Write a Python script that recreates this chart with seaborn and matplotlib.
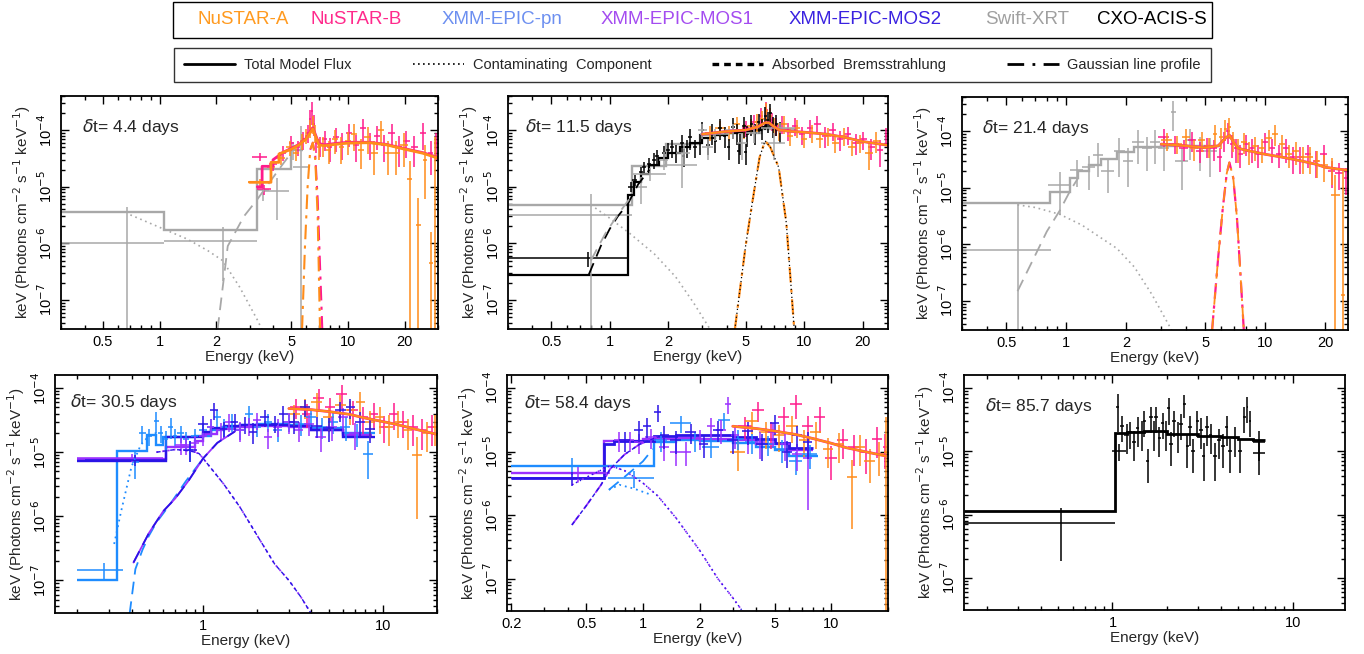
import numpy as np
import matplotlib
matplotlib.use('Agg')
import matplotlib.pyplot as plt
from matplotlib.lines import Line2D
from matplotlib.patches import Rectangle
from matplotlib.ticker import LogLocator, NullFormatter
import seaborn as sns

# ---------------- panel 1 : dt = 4.4 days (NuSTAR + Swift) ----------------
p1_nua_e = [3.4, 3.9, 4.4, 4.9, 5.3, 5.7, 6.0, 6.3, 6.5, 6.7, 7.0, 7.4, 7.9, 8.5, 9.2, 10.0, 10.8, 11.7, 12.7, 13.8, 15.0, 16.3, 18.0, 19.8, 21.2, 23.6, 25.5, 27.5, 29.0]
p1_nua_de = [0.45, 0.2, 0.25, 0.2, 0.2, 0.15, 0.12, 0.12, 0.1, 0.1, 0.15, 0.2, 0.25, 0.3, 0.3, 0.35, 0.4, 0.45, 0.5, 0.55, 0.6, 0.7, 0.8, 0.9, 0.7, 0.8, 0.6, 0.7, 0.6]
p1_nua_f = [1.2e-5, 2.2e-5, 3.2e-5, 5.0e-5, 4.0e-5, 6.5e-5, 8.0e-5, 1.1e-4, 1.3e-4, 9.0e-5, 5.0e-5, 5.5e-5, 4.5e-5, 7.0e-5, 5.0e-5, 6.5e-5, 8.5e-5, 4.5e-5, 7.5e-5, 4.0e-5, 1.0e-4, 4.0e-5, 4.0e-5, 5.5e-5, 1.35e-5, 2.1e-6, 3.0e-5, 4.5e-7, 3.5e-5]
p1_nua_rel = [0.15, 0.25, 0.25, 0.3, 0.3, 0.3, 0.3, 0.35, 0.35, 0.35, 0.4, 0.4, 0.45, 0.45, 0.5, 0.45, 0.5, 0.55, 0.5, 0.6, 0.45, 0.6, 0.6, 0.6, 1.1, 2.0, 0.8, 2.5, 1.2]
p1_nub_e = [3.4, 3.6, 4.0, 4.5, 5.0, 5.4, 5.8, 6.1, 6.3, 6.45, 6.6, 6.8, 7.1, 7.5, 8.0, 8.6, 9.3, 10.1, 11.0, 12.0, 13.1, 14.3, 15.6, 17.0, 18.6, 20.4, 22.5, 25.0, 27.5, 29.3]
p1_nub_de = [0.3, 0.3, 0.2, 0.2, 0.15, 0.15, 0.12, 0.1, 0.08, 0.07, 0.08, 0.1, 0.15, 0.2, 0.25, 0.3, 0.3, 0.35, 0.4, 0.45, 0.5, 0.55, 0.6, 0.7, 0.7, 0.8, 0.9, 1.0, 0.8, 0.6]
p1_nub_f = [3.4e-5, 9e-6, 2.5e-5, 4e-5, 6e-5, 5e-5, 7e-5, 9e-5, 1.6e-4, 2.2e-4, 1.3e-4, 6e-5, 5.5e-5, 7e-5, 5e-5, 7.5e-5, 6e-5, 9e-5, 5.5e-5, 1.1e-4, 6e-5, 8e-5, 5.5e-5, 9e-5, 5e-5, 6.5e-5, 5e-5, 9e-5, 4e-5, 6e-5]
p1_nub_rel = [0.15, 0.2, 0.25, 0.3, 0.3, 0.3, 0.35, 0.35, 0.4, 0.45, 0.4, 0.35, 0.4, 0.4, 0.45, 0.45, 0.5, 0.45, 0.5, 0.45, 0.5, 0.45, 0.5, 0.45, 0.55, 0.5, 0.55, 0.5, 0.6, 0.5]
p1_sw_e = [0.675, 2.175, 3.55, 4.2, 5.1, 5.6]
p1_sw_de = [0.375, 1.125, 0.25, 0.65, 0.3, 0.5]
p1_sw_f = [1.0e-6, 1.1e-6, 8.7e-6, 8.5e-6, 4.5e-5, 2.2e-5]
p1_sw_rel = [3.4, 0.8, 0.35, 0.7, 0.35, 4.4]
p1_sw_mod_edges = [0.3, 1.05, 3.3, 5.0, 5.8]
p1_sw_mod = [3.6e-6, 1.75e-6, 2.1e-5, 4.5e-5]
p1_sw_con_e = [0.7, 1.05, 1.4, 1.8, 2.16, 2.66, 3.3, 3.5]
p1_sw_con = [3.2e-6, 1.8e-6, 1.2e-6, 7.5e-7, 5e-7, 1.7e-7, 4.5e-8, 3e-8]
p1_sw_abs_e = [2.03, 2.3, 2.8, 3.3, 3.9, 4.5, 5.0]
p1_sw_abs = [3e-8, 9e-7, 3e-6, 6e-6, 1.3e-5, 2.5e-5, 4e-5]
p1_nua_mod_e = [3.0, 3.9, 3.9, 4.3, 4.3, 5.0, 5.5, 6.0, 6.3, 6.5, 6.7, 7.0, 7.5, 8.5, 10, 13, 16, 20, 25, 30]
p1_nua_mod = [1.2e-5, 1.2e-5, 2.7e-5, 2.7e-5, 3.8e-5, 4.6e-5, 5.5e-5, 7e-5, 9e-5, 1.05e-4, 8e-5, 5.5e-5, 5.3e-5, 5.6e-5, 5.9e-5, 6e-5, 5.5e-5, 4.6e-5, 3.9e-5, 3.2e-5]
p1_nub_mod_e = [3.3, 3.5, 3.5, 4.0, 4.0, 4.5, 5.0, 5.5, 6.0, 6.3, 6.5, 6.7, 7.0, 7.5, 8.5, 10, 13, 16, 20, 25, 30]
p1_nub_mod = [1.0e-5, 1.0e-5, 2.3e-5, 2.3e-5, 3.0e-5, 4.0e-5, 4.8e-5, 5.6e-5, 7.2e-5, 9.5e-5, 1.1e-4, 8.5e-5, 5.8e-5, 5.5e-5, 5.8e-5, 6.1e-5, 6.1e-5, 5.6e-5, 4.7e-5, 4.0e-5, 3.3e-5]
p1_gau_a_e = [5.7, 5.9, 6.1, 6.3, 6.5, 6.7, 6.9, 7.1]
p1_gau_a = [3e-8, 8e-7, 1e-5, 4.5e-5, 6e-5, 3e-5, 3e-6, 3e-8]
p1_gau_b_e = [6.3, 6.5, 6.7, 6.9, 7.1, 7.3]
p1_gau_b = [4.5e-5, 6e-5, 3.5e-5, 6e-6, 4e-7, 3e-8]

# ---------------- panel 2 : dt = 11.5 days (CXO + Swift + NuSTAR) ----------------
p2_cxo_e = [0.77, 1.28, 1.35, 1.45, 1.5, 1.6, 1.7, 1.75, 1.9, 2.0, 2.1, 2.2, 2.35, 2.4, 2.5, 2.6, 2.75, 2.9, 3.0, 3.2, 3.35, 3.5, 3.7, 3.9, 4.1, 4.3, 4.5, 4.6, 4.7, 4.9, 5.0, 5.1, 5.35, 5.6, 5.85, 6.1, 6.3, 6.5, 6.7, 6.9, 7.2, 7.5]
p2_cxo_de = [0.47, 0.04, 0.04, 0.04, 0.04, 0.04, 0.04, 0.04, 0.05, 0.05, 0.05, 0.05, 0.05, 0.05, 0.05, 0.06, 0.06, 0.06, 0.06, 0.07, 0.07, 0.07, 0.08, 0.08, 0.08, 0.09, 0.09, 0.09, 0.1, 0.1, 0.1, 0.1, 0.1, 0.11, 0.11, 0.11, 0.11, 0.12, 0.12, 0.12, 0.13, 0.13]
p2_cxo_f = [5.5e-7, 1.0e-5, 1.3e-5, 1.8e-5, 2.2e-5, 2.5e-5, 3.0e-5, 3.5e-5, 4.0e-5, 4.5e-5, 5.0e-5, 4.0e-5, 6.0e-5, 3.5e-5, 5.0e-5, 7.5e-5, 5.0e-5, 6.0e-5, 1.0e-4, 5.5e-5, 9.0e-5, 6.5e-5, 1.1e-4, 8.0e-5, 5.0e-5, 1.15e-4, 9.0e-5, 4.2e-5, 6.0e-5, 1.2e-4, 4.1e-5, 8.5e-5, 1.3e-4, 9.0e-5, 1.4e-4, 1.1e-4, 1.8e-4, 1.5e-4, 2.0e-4, 1.2e-4, 1.3e-4, 1.0e-4]
p2_cxo_rel = [0.3, 0.2, 0.25, 0.25, 0.25, 0.3, 0.3, 0.3, 0.3, 0.3, 0.35, 0.35, 0.35, 0.35, 0.35, 0.4, 0.35, 0.4, 0.4, 0.35, 0.4, 0.4, 0.4, 0.4, 0.4, 0.4, 0.4, 0.4, 0.4, 0.4, 0.4, 0.4, 0.4, 0.4, 0.4, 0.4, 0.45, 0.4, 0.45, 0.4, 0.4, 0.4]
p2_cxo_mod_edges = [0.3, 1.24, 1.33, 1.45, 1.6, 1.8, 2.0, 2.3, 2.6, 3.0, 3.5, 4.0, 4.5, 5.0, 5.5, 6.0, 6.4, 6.8, 7.2, 7.6]
p2_cxo_mod = [2.8e-7, 7.2e-6, 1.2e-5, 1.7e-5, 2.4e-5, 3.2e-5, 4e-5, 5e-5, 6e-5, 7.3e-5, 8.3e-5, 9e-5, 9.3e-5, 9.6e-5, 1.02e-4, 1.15e-4, 1.35e-4, 1.2e-4, 1.0e-4]
p2_sw_e = [0.8, 1.45, 1.62, 1.9, 2.35, 2.4, 3.0, 3.2, 3.5, 4.3, 4.8, 5.5, 7.0, 7.5]
p2_sw_de = [0.5, 0.1, 0.33, 0.1, 0.45, 0.2, 0.15, 0.2, 0.6, 0.4, 0.3, 0.5, 1.0, 1.5]
p2_sw_f = [3.2e-6, 1.0e-5, 1.7e-5, 3.0e-5, 2.4e-5, 4.0e-5, 1.0e-4, 5.0e-5, 8.5e-5, 1.0e-4, 6.0e-5, 9.0e-5, 6.0e-5, 1.1e-4]
p2_sw_rel = [1.35, 0.5, 0.25, 0.35, 0.6, 0.4, 0.3, 0.4, 0.25, 0.3, 0.5, 0.35, 0.5, 0.2]
p2_sw_mod_edges = [0.3, 1.3, 1.95, 2.9, 4.0, 6.0, 9.2]
p2_sw_mod = [4.8e-6, 2.3e-5, 5.8e-5, 8.2e-5, 9e-5, 1.05e-4]
p2_sw_con_e = [0.8, 1.0, 1.27, 1.7, 2.18, 2.7, 3.26, 3.5]
p2_sw_con = [4.8e-6, 2.8e-6, 1.5e-6, 6.5e-7, 2.6e-7, 9e-8, 3.2e-8, 2.5e-8]
p2_abs_e = [0.78, 0.9, 1.0, 1.1, 1.24, 1.4, 1.6]
p2_abs = [2.8e-7, 9e-7, 1.8e-6, 3e-6, 5e-6, 1.1e-5, 2e-5]
p2_sw_abs_e = [0.8, 0.95, 1.1, 1.3]
p2_sw_abs = [5e-7, 1.5e-6, 3.2e-6, 7e-6]
p2_gau_e = [4.4, 5.0, 5.4, 5.9, 6.3, 6.7, 7.4, 8.1, 8.9]
p2_gau = [3e-8, 9e-7, 5e-6, 3.3e-5, 6.5e-5, 5e-5, 2.2e-5, 2.3e-6, 3e-8]
p2_nu_mod_e = [3.0, 4.0, 5.0, 5.8, 6.3, 6.6, 7.0, 7.5, 8.5, 10, 13, 16, 20, 27]
p2_nu_mod = [8.5e-5, 9.5e-5, 1.0e-4, 1.15e-4, 1.35e-4, 1.35e-4, 1.15e-4, 1.0e-4, 9.5e-5, 9.2e-5, 8.5e-5, 7.5e-5, 6.3e-5, 5.4e-5]
p2_nua_e = [3.3, 3.7, 4.1, 4.5, 4.9, 5.3, 5.7, 6.1, 6.4, 6.7, 7.0, 7.4, 7.9, 8.5, 9.2, 10.0, 11.0, 12.0, 13.2, 14.5, 16.0, 17.6, 19.4, 21.5, 23.5]
p2_nua_de = [0.2, 0.2, 0.2, 0.2, 0.2, 0.2, 0.15, 0.15, 0.12, 0.12, 0.15, 0.2, 0.25, 0.3, 0.35, 0.4, 0.45, 0.5, 0.6, 0.6, 0.7, 0.8, 0.9, 1.0, 1.0]
p2_nua_f = [9e-5, 1.1e-4, 9e-5, 1.3e-4, 1.0e-4, 1.2e-4, 1.4e-4, 1.6e-4, 2.2e-4, 1.8e-4, 1.2e-4, 1.0e-4, 1.3e-4, 8e-5, 1.1e-4, 7e-5, 9e-5, 7e-5, 8e-5, 6e-5, 8e-5, 5e-5, 6e-5, 4e-5, 6.5e-5]
p2_nua_rel = [0.3, 0.3, 0.3, 0.3, 0.3, 0.3, 0.35, 0.35, 0.35, 0.35, 0.35, 0.35, 0.35, 0.35, 0.35, 0.3, 0.35, 0.3, 0.35, 0.35, 0.35, 0.3, 0.35, 0.5, 0.4]
p2_nub_e = [5.0, 5.5, 6.0, 6.4, 6.8, 7.2, 7.7, 8.3, 9.0, 9.8, 10.7, 11.7, 12.8, 14.0, 15.3, 16.8, 18.4, 20.2, 22.2, 24.5, 26.5]
p2_nub_de = [0.2, 0.2, 0.15, 0.12, 0.15, 0.2, 0.25, 0.3, 0.3, 0.35, 0.4, 0.45, 0.5, 0.55, 0.6, 0.7, 0.8, 0.9, 0.9, 0.8, 0.5]
p2_nub_f = [1.1e-4, 1.4e-4, 1.8e-4, 2.3e-4, 1.5e-4, 1.2e-4, 1.3e-4, 1.0e-4, 1.2e-4, 8.5e-5, 1.1e-4, 1.3e-4, 8e-5, 1.0e-4, 7e-5, 8.5e-5, 6e-5, 7e-5, 5e-5, 4.5e-5, 8e-5]
p2_nub_rel = [0.3, 0.3, 0.35, 0.35, 0.35, 0.35, 0.35, 0.35, 0.35, 0.35, 0.35, 0.35, 0.4, 0.35, 0.4, 0.35, 0.4, 0.35, 0.4, 0.5, 0.35]

# ---------------- panel 3 : dt = 21.4 days (Swift + NuSTAR) ----------------
p3_sw_e = [0.57, 0.93, 1.13, 1.3, 1.45, 1.62, 1.85, 2.05, 2.3, 2.55, 2.8, 3.1, 3.45, 3.8, 4.2, 4.7, 5.3]
p3_sw_de = [0.27, 0.12, 0.08, 0.1, 0.08, 0.12, 0.12, 0.12, 0.15, 0.15, 0.15, 0.2, 0.1, 0.3, 0.25, 0.3, 0.4]
p3_sw_f = [8e-7, 1.1e-5, 2.1e-5, 2.3e-5, 3.8e-5, 2.0e-5, 4.5e-5, 3.0e-5, 6.5e-5, 5.0e-5, 6.5e-5, 5.0e-5, 2.2e-4, 3.0e-5, 7.0e-5, 5.0e-5, 4.5e-5]
p3_sw_rel = [6.0, 0.7, 0.5, 0.6, 0.6, 0.6, 0.65, 0.65, 0.6, 0.6, 0.6, 0.6, 0.55, 0.7, 0.55, 0.6, 0.65]
p3_sw_mod_edges = [0.3, 0.83, 1.05, 1.15, 1.3, 1.5, 1.8, 2.2, 3.0, 6.0]
p3_sw_mod = [5.3e-6, 8.5e-6, 1.5e-5, 2.0e-5, 2.5e-5, 3.2e-5, 4.3e-5, 5.2e-5, 5.5e-5]
p3_sw_con_e = [0.57, 0.7, 0.93, 1.2, 1.5, 1.8, 2.2, 2.7, 3.4]
p3_sw_con = [5e-6, 4.5e-6, 3.4e-6, 2.2e-6, 1.3e-6, 8.5e-7, 4e-7, 1.3e-7, 3e-8]
p3_sw_abs_e = [0.57, 0.7, 0.8, 0.93, 1.05, 1.15]
p3_sw_abs = [1.5e-7, 6.5e-7, 1.7e-6, 4e-6, 9e-6, 1.5e-5]
p3_nu_mod_e = [3, 4, 5, 5.8, 6.3, 6.6, 6.9, 7.3, 8, 10, 12, 15, 18, 20, 23, 26]
p3_nu_mod = [5.9e-5, 5.5e-5, 5.1e-5, 5.5e-5, 7.5e-5, 8.5e-5, 6.5e-5, 5.0e-5, 4.6e-5, 3.9e-5, 3.5e-5, 3.0e-5, 2.6e-5, 2.3e-5, 2.15e-5, 2.05e-5]
p3_gau_e = [5.4, 5.8, 6.1, 6.4, 6.6, 6.9, 7.2, 7.5, 7.8]
p3_gau = [3e-8, 6e-7, 4e-6, 1.8e-5, 2.8e-5, 1.5e-5, 3e-6, 3e-7, 3e-8]
p3_nua_e = [3.2, 3.6, 4.0, 4.4, 4.8, 5.2, 5.6, 6.0, 6.3, 6.6, 6.9, 7.3, 7.8, 8.3, 8.9, 9.6, 10.4, 11.2, 12.1, 13.1, 14.2, 15.4, 16.7, 18.2, 19.8, 21.5, 22.5, 24.6]
p3_nua_de = [0.2, 0.2, 0.2, 0.2, 0.2, 0.2, 0.15, 0.15, 0.12, 0.12, 0.15, 0.2, 0.25, 0.25, 0.3, 0.35, 0.4, 0.4, 0.45, 0.5, 0.55, 0.6, 0.65, 0.7, 0.8, 0.8, 1.2, 0.6]
p3_nua_f = [7e-5, 6e-5, 8e-5, 5e-5, 7e-5, 5.5e-5, 9e-5, 8e-5, 1.1e-4, 1.2e-4, 7e-5, 5e-5, 6.5e-5, 4.5e-5, 5.5e-5, 5e-5, 7.5e-5, 9e-5, 6e-5, 4e-5, 4.5e-5, 3.5e-5, 3.5e-5, 3e-5, 2.5e-5, 2.2e-5, 7.4e-6, 1.3e-7]
p3_nua_rel = [0.35, 0.35, 0.35, 0.4, 0.4, 0.4, 0.4, 0.4, 0.4, 0.4, 0.4, 0.45, 0.4, 0.45, 0.45, 0.45, 0.4, 0.4, 0.45, 0.45, 0.45, 0.5, 0.5, 0.5, 0.5, 0.5, 1.3, 150]
p3_nub_e = [3.1, 3.5, 3.9, 4.3, 4.7, 5.1, 5.5, 5.9, 6.2, 6.5, 6.8, 7.1, 7.5, 8.0, 8.6, 9.2, 10.0, 10.8, 11.7, 12.7, 13.8, 15.0, 16.4, 18.0, 19.6, 21.5, 23.5, 25.5]
p3_nub_de = [0.2, 0.2, 0.2, 0.2, 0.2, 0.2, 0.2, 0.15, 0.12, 0.12, 0.12, 0.15, 0.2, 0.25, 0.3, 0.3, 0.35, 0.4, 0.45, 0.5, 0.55, 0.6, 0.65, 0.7, 0.8, 0.9, 1.0, 0.6]
p3_nub_f = [8e-5, 6e-5, 5e-5, 7e-5, 4.5e-5, 5.5e-5, 5e-5, 3.5e-5, 7e-5, 1e-4, 6e-5, 5e-5, 4e-5, 6e-5, 5e-5, 4e-5, 6.5e-5, 5e-5, 4e-5, 5e-5, 3.5e-5, 3.5e-5, 4e-5, 3e-5, 4e-5, 2e-5, 1.8e-5, 1.5e-5]
p3_nub_rel = [0.35, 0.35, 0.4, 0.4, 0.4, 0.4, 0.4, 0.45, 0.4, 0.4, 0.45, 0.45, 0.45, 0.4, 0.45, 0.45, 0.4, 0.45, 0.45, 0.45, 0.5, 0.5, 0.45, 0.5, 0.45, 0.5, 0.5, 0.5]

# ---------------- panel 4 : dt = 30.5 days (XMM + NuSTAR) ----------------
p4_pn_e = [0.28, 0.42, 0.46, 0.5, 0.55, 0.58, 0.62, 0.66, 0.7, 0.75, 0.8, 0.85, 0.9, 1.0, 1.1, 1.2, 1.3, 1.45, 1.6, 1.8, 2.0, 2.3, 2.6, 3.0, 3.5, 4.0, 4.6, 5.3, 6.2, 7.2, 8.3]
p4_pn_de = [0.08, 0.02, 0.02, 0.02, 0.02, 0.02, 0.02, 0.02, 0.02, 0.03, 0.03, 0.03, 0.04, 0.05, 0.05, 0.05, 0.05, 0.07, 0.08, 0.1, 0.1, 0.12, 0.15, 0.2, 0.25, 0.25, 0.3, 0.35, 0.4, 0.5, 0.5]
p4_pn_f = [1.45e-7, 7e-6, 2e-5, 1.8e-5, 3.1e-5, 2e-5, 1.6e-5, 2.5e-5, 1.8e-5, 2e-5, 1.6e-5, 1.1e-5, 1.8e-5, 2.2e-5, 2.5e-5, 3.5e-5, 2.5e-5, 3e-5, 2.2e-5, 4e-5, 2.5e-5, 3e-5, 2.2e-5, 3e-5, 2.8e-5, 3.5e-5, 2.5e-5, 3e-5, 2.5e-5, 2e-5, 9.5e-6]
p4_pn_rel = [0.3, 0.45, 0.3, 0.3, 0.35, 0.3, 0.35, 0.35, 0.3, 0.3, 0.3, 0.35, 0.3, 0.3, 0.3, 0.3, 0.3, 0.3, 0.3, 0.3, 0.3, 0.3, 0.35, 0.3, 0.35, 0.3, 0.35, 0.35, 0.4, 0.4, 0.6]
p4_m1_e = [0.4, 0.75, 0.8, 0.9, 1.0, 1.1, 1.25, 1.4, 1.6, 1.8, 2.0, 2.3, 2.6, 3.0, 3.4, 3.9, 4.5, 5.2, 6.0, 7.0]
p4_m1_de = [0.2, 0.05, 0.05, 0.05, 0.05, 0.05, 0.06, 0.07, 0.08, 0.1, 0.1, 0.12, 0.15, 0.2, 0.2, 0.25, 0.3, 0.35, 0.4, 0.5]
p4_m1_f = [8.2e-6, 1.3e-5, 1.3e-5, 1.4e-5, 1.8e-5, 2.5e-5, 2.2e-5, 3e-5, 2.2e-5, 2.6e-5, 3.2e-5, 1.7e-5, 2.5e-5, 3e-5, 2.2e-5, 2.8e-5, 1.7e-5, 2.5e-5, 3.5e-5, 2e-5]
p4_m1_rel = [0.15, 0.3, 0.3, 0.3, 0.3, 0.3, 0.3, 0.3, 0.35, 0.3, 0.3, 0.35, 0.3, 0.35, 0.35, 0.35, 0.4, 0.4, 0.4, 0.45]
p4_m2_e = [0.42, 0.85, 1.0, 1.15, 1.3, 1.5, 1.7, 1.9, 2.2, 2.5, 2.8, 3.2, 3.7, 4.3, 5.0, 5.8, 6.6, 7.5, 8.5]
p4_m2_de = [0.2, 0.08, 0.06, 0.06, 0.06, 0.07, 0.08, 0.1, 0.12, 0.12, 0.15, 0.2, 0.25, 0.3, 0.35, 0.4, 0.4, 0.5, 0.5]
p4_m2_f = [7.5e-6, 1.1e-5, 2.8e-5, 4.5e-5, 2.3e-5, 3e-5, 2.7e-5, 2.1e-5, 3.5e-5, 2.8e-5, 4e-5, 3e-5, 5e-5, 2.6e-5, 2.4e-5, 4.5e-5, 5e-5, 3e-5, 2.3e-5]
p4_m2_rel = [0.2, 0.35, 0.3, 0.3, 0.3, 0.3, 0.3, 0.35, 0.3, 0.3, 0.3, 0.35, 0.3, 0.35, 0.4, 0.35, 0.35, 0.4, 0.4]
p4_pn_mod_edges = [0.2, 0.33, 0.49, 0.55, 0.6, 0.9, 1.1, 1.3, 1.6, 2.0, 3.0, 4.0, 6.0, 9.0]
p4_pn_mod = [1e-7, 1.05e-5, 1.85e-5, 1.3e-5, 1.75e-5, 1.8e-5, 2.2e-5, 2.5e-5, 2.7e-5, 2.8e-5, 2.7e-5, 2.4e-5, 2.0e-5]
p4_m1_mod_edges = [0.2, 0.62, 0.9, 1.0, 1.2, 1.5, 2.0, 3.0, 4.0, 6.0, 8.7]
p4_m1_mod = [7.8e-6, 1.2e-5, 1.5e-5, 1.9e-5, 2.3e-5, 2.5e-5, 2.6e-5, 2.5e-5, 2.2e-5, 1.85e-5]
p4_m2_mod_edges = [0.2, 0.62, 1.0, 1.1, 1.3, 1.6, 2.0, 3.0, 4.0, 6.0, 9.0]
p4_m2_mod = [7.2e-6, 1.75e-5, 2.1e-5, 2.4e-5, 2.6e-5, 2.7e-5, 2.7e-5, 2.6e-5, 2.2e-5, 1.75e-5]
p4_abs_e = [0.41, 0.5, 0.6, 0.7, 0.83, 1.0, 1.2, 1.5]
p4_abs = [1.9e-7, 5.5e-7, 1.2e-6, 1.9e-6, 3.6e-6, 8e-6, 1.4e-5, 2.1e-5]
p4_pn_abs_e = [0.39, 0.42, 0.46, 0.5, 0.55, 0.65, 0.8, 1.0]
p4_pn_abs = [3e-8, 1.5e-7, 3e-7, 5e-7, 8e-7, 1.5e-6, 3.5e-6, 8e-6]
p4_con_e = [0.55, 0.7, 0.85, 0.95, 1.0, 1.3, 1.6, 2.0, 2.5, 3.0, 3.5, 4.0]
p4_con = [1.0e-5, 1.1e-5, 1.05e-5, 9.5e-6, 8e-6, 3.2e-6, 1.4e-6, 5e-7, 1.8e-7, 1e-7, 5.5e-8, 3e-8]
p4_pn_con_e = [0.32, 0.35, 0.4, 0.45, 0.5, 0.55]
p4_pn_con = [3.7e-7, 1.2e-6, 6e-6, 1.3e-5, 1.8e-5, 2e-5]
p4_nu_mod_e = [3.0, 4.0, 5.0, 6.5, 8.0, 10, 12, 15, 20]
p4_nu_mod = [4.8e-5, 4.6e-5, 4.3e-5, 3.9e-5, 3.4e-5, 3.0e-5, 2.7e-5, 2.3e-5, 1.9e-5]
p4_nua_e = [3.2, 3.7, 4.3, 5.0, 5.8, 6.6, 7.5, 8.5, 9.6, 10.8, 12.2, 13.8, 15.5, 17.5, 19.5]
p4_nua_de = [0.25, 0.25, 0.3, 0.35, 0.4, 0.4, 0.45, 0.5, 0.55, 0.6, 0.7, 0.8, 0.9, 1.0, 0.6]
p4_nua_f = [4e-5, 5e-5, 6e-5, 3.5e-5, 5.5e-5, 4.5e-5, 6e-5, 3e-5, 3.5e-5, 2.5e-5, 3e-5, 2.2e-5, 9e-6, 2e-5, 2.5e-5]
p4_nua_rel = [0.35, 0.35, 0.4, 0.4, 0.4, 0.4, 0.45, 0.45, 0.45, 0.5, 0.45, 0.5, 0.9, 0.5, 0.5]
p4_nub_e = [3.3, 3.8, 4.4, 5.1, 5.9, 6.8, 7.8, 8.9, 10.1, 11.5, 13.0, 14.7, 16.6, 18.7]
p4_nub_de = [0.25, 0.25, 0.3, 0.35, 0.4, 0.45, 0.5, 0.55, 0.6, 0.7, 0.8, 0.9, 1.0, 1.0]
p4_nub_f = [5e-5, 4e-5, 7e-5, 5e-5, 8e-5, 4.5e-5, 3.5e-5, 4e-5, 2.5e-5, 4e-5, 3e-5, 2.5e-5, 2.2e-5, 2.5e-5]
p4_nub_rel = [0.35, 0.4, 0.4, 0.4, 0.4, 0.4, 0.45, 0.45, 0.45, 0.45, 0.45, 0.5, 0.5, 0.5]

# ---------------- panel 5 : dt = 58.4 days (XMM + NuSTAR) ----------------
p5_pn_e = [0.42, 0.9, 1.25, 1.6, 1.9, 2.3, 2.7, 3.2, 3.8, 4.6, 5.5, 6.5, 7.7]
p5_pn_de = [0.22, 0.25, 0.1, 0.2, 0.15, 0.25, 0.2, 0.25, 0.3, 0.4, 0.4, 0.5, 0.7]
p5_pn_f = [6e-6, 3.8e-6, 1.5e-5, 2.8e-5, 1.5e-5, 1.2e-5, 3.1e-5, 1.6e-5, 1.4e-5, 1.3e-5, 1.1e-5, 7e-6, 9e-6]
p5_pn_rel = [0.3, 0.3, 0.35, 0.3, 0.35, 0.35, 0.3, 0.35, 0.35, 0.35, 0.4, 0.4, 0.4]
p5_m1_e = [0.45, 0.75, 0.85, 0.95, 1.1, 1.3, 1.5, 1.7, 2.0, 2.3, 2.6, 2.84, 3.1, 3.6, 4.2, 4.9, 5.7, 6.6, 7.5]
p5_m1_de = [0.22, 0.05, 0.05, 0.05, 0.07, 0.08, 0.1, 0.1, 0.12, 0.12, 0.15, 0.1, 0.15, 0.2, 0.25, 0.3, 0.35, 0.4, 0.4]
p5_m1_f = [4.6e-6, 1.5e-5, 1.5e-5, 1.4e-5, 1.7e-5, 1.2e-5, 1e-5, 1e-5, 1.6e-5, 2.5e-5, 2.2e-5, 5.6e-5, 1.8e-5, 1.5e-5, 1.4e-5, 2.0e-5, 1.3e-5, 9e-6, 8e-6]
p5_m1_rel = [0.25, 0.35, 0.35, 0.35, 0.35, 0.4, 0.4, 0.4, 0.35, 0.35, 0.4, 0.3, 0.4, 0.4, 0.45, 0.4, 0.45, 0.45, 0.85]
p5_m2_e = [0.42, 0.8, 0.95, 1.05, 1.2, 1.3, 1.5, 1.8, 2.1, 2.5, 3.0, 3.6, 4.3, 5.0, 5.8, 6.6, 7.5]
p5_m2_de = [0.22, 0.05, 0.05, 0.05, 0.05, 0.07, 0.1, 0.12, 0.12, 0.15, 0.2, 0.25, 0.3, 0.3, 0.35, 0.4, 0.4]
p5_m2_f = [3.8e-6, 1.5e-5, 2.2e-5, 2.5e-5, 4.2e-5, 1.8e-5, 1.5e-5, 2e-5, 1.3e-5, 2.2e-5, 1.5e-5, 2.1e-5, 1.3e-5, 2.8e-5, 1e-5, 1.8e-5, 1.4e-5]
p5_m2_rel = [0.25, 0.35, 0.35, 0.35, 0.3, 0.4, 0.4, 0.35, 0.4, 0.35, 0.4, 0.4, 0.45, 0.35, 0.45, 0.4, 0.45]
p5_pn_mod_edges = [0.2, 1.15, 1.5, 2.0, 3.0, 4.0, 5.0, 6.0, 8.5]
p5_pn_mod = [6e-6, 1.4e-5, 1.5e-5, 1.45e-5, 1.35e-5, 1.2e-5, 1.05e-5, 8.5e-6]
p5_m1_mod_edges = [0.2, 0.62, 1.0, 1.5, 2.0, 3.0, 4.0, 6.0, 8.0]
p5_m1_mod = [4.6e-6, 1.45e-5, 1.6e-5, 1.65e-5, 1.6e-5, 1.5e-5, 1.3e-5, 1.05e-5]
p5_m2_mod_edges = [0.2, 0.62, 0.7, 1.15, 1.5, 2.0, 3.0, 4.0, 5.0, 6.0, 8.0]
p5_m2_mod = [3.8e-6, 1.3e-5, 1.45e-5, 1.75e-5, 1.85e-5, 1.85e-5, 1.7e-5, 1.55e-5, 1.35e-5, 1.15e-5]
p5_nu_mod_e = [3.0, 4.0, 5.0, 6.5, 8.0, 10, 12, 15, 19.5]
p5_nu_mod = [2.5e-5, 2.3e-5, 2.1e-5, 1.85e-5, 1.6e-5, 1.35e-5, 1.15e-5, 1.0e-5, 8.5e-6]
p5_abs_e = [0.42, 0.5, 0.6, 0.67, 0.8, 0.96, 1.2]
p5_abs = [7e-7, 1.4e-6, 3e-6, 5.3e-6, 9e-6, 1.3e-5, 1.7e-5]
p5_pn_abs_e = [0.66, 0.8, 1.0, 1.13]
p5_pn_abs = [2.5e-6, 4e-6, 7e-6, 1.1e-5]
p5_con_e = [0.42, 0.55, 0.67, 0.8, 1.0, 1.2, 1.5, 2.0, 2.5, 3.0, 3.4]
p5_con = [3e-6, 4.5e-6, 6e-6, 5e-6, 3.2e-6, 2e-6, 9e-7, 2.8e-7, 1e-7, 5e-8, 3e-8]
p5_pn_con_e = [0.66, 0.75, 0.9, 1.1]
p5_pn_con = [2.5e-6, 3e-6, 2.6e-6, 2.1e-6]
p5_nua_e = [3.2, 3.8, 4.5, 5.3, 6.2, 7.2, 8.3, 9.6, 11.0, 12.9, 14.2, 16.0, 18.0, 19.5]
p5_nua_de = [0.3, 0.3, 0.35, 0.4, 0.45, 0.5, 0.55, 0.6, 0.7, 0.8, 0.9, 1.0, 1.0, 0.5]
p5_nua_f = [1.0e-5, 3e-5, 2e-5, 1.8e-5, 2.5e-5, 1.5e-5, 2e-5, 1.1e-5, 1.3e-5, 4e-6, 1.2e-5, 7e-6, 9e-6, 1.0e-5]
p5_nua_rel = [0.5, 0.4, 0.45, 0.45, 0.45, 0.45, 0.45, 0.5, 0.5, 0.85, 0.5, 0.55, 0.55, 2.5]
p5_nub_e = [3.5, 4.1, 4.8, 5.6, 6.5, 7.5, 8.7, 10.0, 11.5, 13.2, 15.2, 17.5, 19.2]
p5_nub_de = [0.3, 0.3, 0.35, 0.4, 0.45, 0.5, 0.6, 0.7, 0.8, 0.9, 1.0, 1.0, 0.5]
p5_nub_f = [2.5e-5, 4.5e-5, 2.0e-5, 3.5e-5, 5.5e-5, 2.5e-5, 3.5e-5, 8e-6, 1.5e-5, 1.2e-5, 1.0e-5, 1.6e-5, 1.2e-5]
p5_nub_rel = [0.4, 0.35, 0.45, 0.45, 0.4, 0.45, 0.45, 0.55, 0.5, 0.5, 0.55, 0.5, 0.55]

# ---------------- panel 6 : dt = 85.7 days (CXO) ----------------
p6_cxo_e = [0.52, 1.09, 1.07, 1.13, 1.2, 1.25, 1.32, 1.38, 1.45, 1.5, 1.57, 1.63, 1.7, 1.75, 1.82, 1.9, 1.97, 2.05, 2.12, 2.2, 2.3, 2.4, 2.5, 2.6, 2.7, 2.8, 2.95, 3.1, 3.2, 3.35, 3.5, 3.7, 3.9, 4.1, 4.3, 4.5, 4.8, 5.1, 5.4, 5.6, 5.8, 6.5, 6.5]
p6_cxo_de = [0.51, 0.1, 0.02, 0.03, 0.04, 0.03, 0.03, 0.03, 0.04, 0.03, 0.03, 0.04, 0.03, 0.04, 0.04, 0.04, 0.04, 0.04, 0.05, 0.05, 0.05, 0.05, 0.05, 0.05, 0.06, 0.06, 0.06, 0.07, 0.07, 0.07, 0.08, 0.1, 0.1, 0.1, 0.1, 0.1, 0.12, 0.12, 0.12, 0.05, 0.05, 0.5, 0.5]
p6_cxo_f = [7.3e-7, 1.0e-5, 5.0e-5, 2.5e-5, 1.8e-5, 2.0e-5, 1.4e-5, 2.3e-5, 2.0e-5, 3.0e-5, 7e-6, 3.5e-5, 2.0e-5, 3.5e-5, 1.6e-5, 2.8e-5, 2.0e-5, 4.8e-5, 1.3e-5, 3.0e-5, 1.9e-5, 2.7e-5, 5.5e-5, 1.2e-5, 2.4e-5, 1.0e-5, 3.0e-5, 2.2e-5, 8.5e-6, 2.4e-5, 1.8e-5, 8.5e-6, 1.5e-5, 1.2e-5, 2.4e-5, 1.0e-5, 1.6e-5, 1.0e-5, 3.5e-5, 5.0e-5, 3.0e-5, 1.4e-5, 9.5e-6]
p6_cxo_rel = [0.75, 0.3, 0.6, 0.45, 0.5, 0.45, 0.5, 0.5, 0.5, 0.45, 0.55, 0.45, 0.5, 0.45, 0.5, 0.45, 0.5, 0.45, 0.55, 0.45, 0.5, 0.45, 0.4, 0.55, 0.5, 0.55, 0.45, 0.5, 0.6, 0.5, 0.5, 0.6, 0.5, 0.55, 0.5, 0.55, 0.5, 0.55, 0.45, 0.45, 0.45, 0.5, 0.55]
p6_cxo_mod_edges = [0.15, 1.03, 1.2, 1.5, 2.0, 3.0, 4.0, 5.0, 6.0, 7.0]
p6_cxo_mod = [1.15e-6, 1.95e-5, 2.0e-5, 2.05e-5, 1.9e-5, 1.75e-5, 1.65e-5, 1.55e-5, 1.5e-5]

instruments = ['NuSTAR-A', 'NuSTAR-B', 'XMM-EPIC-pn', 'XMM-EPIC-MOS1', 'XMM-EPIC-MOS2', 'Swift-XRT', 'CXO-ACIS-S']
inst_text_colors = ['#FF9A1F', '#FF2A8C', '#6C8FF0', '#A44CF0', '#3A22E0', '#A0A0A0', '#000000']

NUA, NUB = '#FF8C1A', '#FF1A8C'
PN, MOS1, MOS2 = '#1E8CFF', '#9B30FF', '#2A14E6'
SWIFT, CXO = '#A8A8A8', '#000000'

sns.set_theme(style='ticks')
plt.rcParams['font.family'] = ['Liberation Sans', 'DejaVu Sans']
plt.rcParams['axes.edgecolor'] = 'black'
plt.rcParams['axes.linewidth'] = 1.3
plt.rcParams['xtick.color'] = 'black'
plt.rcParams['ytick.color'] = 'black'

W, H = 1364, 654
fig = plt.figure(figsize=(W / 100, H / 100), dpi=100)


def add_panel(box, xlim, ylim, xticks, label, tx, ty):
    l, t, r, b = box
    ax = fig.add_axes([l / W, 1 - b / H, (r - l) / W, (b - t) / H])
    ax.set_xscale('log')
    ax.set_yscale('log')
    ax.text(tx, ty, r'$\delta$t= ' + label, transform=ax.transAxes, fontsize=12.5, va='center')
    ax._lims = (xlim, ylim, xticks)
    return ax


def finish(ax):
    xlim, ylim, xticks = ax._lims
    ax.set_xticks(xticks)
    ax.set_xticklabels([f'{t:g}' for t in xticks])
    ax.xaxis.set_minor_locator(LogLocator(base=10, subs=np.arange(2, 10), numticks=50))
    ax.xaxis.set_minor_formatter(NullFormatter())
    yt = [1e-7, 1e-6, 1e-5, 1e-4]
    ax.set_yticks(yt)
    ax.set_yticklabels([r'10$^{-7}$', r'10$^{-6}$', r'10$^{-5}$', r'10$^{-4}$'], rotation=90, va='center')
    ax.yaxis.set_minor_locator(LogLocator(base=10, subs=np.arange(2, 10), numticks=50))
    ax.yaxis.set_minor_formatter(NullFormatter())
    ax.tick_params(which='both', direction='in', top=True, right=True, width=1.0, labelsize=10.5, pad=4)
    ax.tick_params(which='major', length=6)
    ax.tick_params(which='minor', length=3)
    ax.set_xlim(*xlim)
    ax.set_ylim(*ylim)
    ax.set_xlabel('Energy (keV)', fontsize=11, labelpad=1)
    ax.set_ylabel(r'keV (Photons cm$^{-2}$ s$^{-1}$ keV$^{-1}$)', fontsize=11, labelpad=3)


def data(ax, e, de, f, rel, color, lw=1.1):
    f = np.asarray(f)
    ax.errorbar(e, f, xerr=de, yerr=f * np.asarray(rel), fmt='none',
                ecolor=color, elinewidth=lw, capsize=0)


def curve(ax, e, f, color, ls='-', lw=1.6):
    sns.lineplot(x=e, y=f, ax=ax, color=color, linestyle=ls, linewidth=lw,
                 estimator=None, sort=False, legend=False)


def steps(ax, edges, vals, color, lw=1.7):
    ax.stairs(vals, edges, baseline=None, color=color, linewidth=lw)


DOT = (0, (1, 2.2))
DASH = (0, (7, 4))
SDASH = (0, (3, 2))
DDOT = (0, (7, 3, 1.5, 3))

top_ylim = (3.1e-8, 4e-4)
bot_ylim = (3.1e-8, 1.6e-4)

# panel 1
ax1 = add_panel((61, 96, 438, 329), (0.3, 30), top_ylim, [0.5, 1, 2, 5, 10, 20], '4.4 days', 0.056, 0.865)
data(ax1, p1_sw_e, p1_sw_de, p1_sw_f, p1_sw_rel, SWIFT)
data(ax1, p1_nub_e, p1_nub_de, p1_nub_f, p1_nub_rel, NUB)
data(ax1, p1_nua_e, p1_nua_de, p1_nua_f, p1_nua_rel, NUA)
steps(ax1, p1_sw_mod_edges, p1_sw_mod, SWIFT)
curve(ax1, p1_sw_con_e, p1_sw_con, SWIFT, DOT, 1.2)
curve(ax1, p1_sw_abs_e, p1_sw_abs, SWIFT, DASH, 1.3)
curve(ax1, p1_nub_mod_e, p1_nub_mod, NUB, '-', 2.0)
curve(ax1, p1_nua_mod_e, p1_nua_mod, NUA, '-', 2.0)
curve(ax1, p1_gau_b_e, p1_gau_b, NUB, DDOT, 1.5)
curve(ax1, p1_gau_a_e, p1_gau_a, NUA, DDOT, 1.5)
finish(ax1)

# panel 2
ax2 = add_panel((508, 96, 888, 329), (0.3, 27), top_ylim, [0.5, 1, 2, 5, 10, 20], '11.5 days', 0.045, 0.865)
data(ax2, p2_nub_e, p2_nub_de, p2_nub_f, p2_nub_rel, NUB)
data(ax2, p2_nua_e, p2_nua_de, p2_nua_f, p2_nua_rel, NUA)
data(ax2, p2_cxo_e, p2_cxo_de, p2_cxo_f, p2_cxo_rel, CXO)
data(ax2, p2_sw_e, p2_sw_de, p2_sw_f, p2_sw_rel, SWIFT)
steps(ax2, p2_sw_mod_edges, p2_sw_mod, SWIFT)
steps(ax2, p2_cxo_mod_edges, p2_cxo_mod, CXO, 1.6)
curve(ax2, p2_sw_con_e, p2_sw_con, SWIFT, DOT, 1.2)
curve(ax2, p2_abs_e, p2_abs, CXO, DASH, 1.3)
curve(ax2, p2_sw_abs_e, p2_sw_abs, SWIFT, DASH, 1.3)
curve(ax2, p2_nu_mod_e, p2_nu_mod, NUB, '-', 2.0)
curve(ax2, p2_nu_mod_e, p2_nu_mod, NUA, '-', 1.6)
curve(ax2, p2_gau_e, p2_gau, NUA, DDOT, 1.6)
curve(ax2, p2_gau_e, p2_gau, CXO, DOT, 0.9)
finish(ax2)

# panel 3
ax3 = add_panel((962, 97, 1348, 330), (0.3, 26), top_ylim, [0.5, 1, 2, 5, 10, 20], '21.4 days', 0.052, 0.865)
data(ax3, p3_sw_e, p3_sw_de, p3_sw_f, p3_sw_rel, SWIFT)
data(ax3, p3_nub_e, p3_nub_de, p3_nub_f, p3_nub_rel, NUB)
data(ax3, p3_nua_e, p3_nua_de, p3_nua_f, p3_nua_rel, NUA)
steps(ax3, p3_sw_mod_edges, p3_sw_mod, SWIFT)
curve(ax3, p3_sw_con_e, p3_sw_con, SWIFT, DOT, 1.2)
curve(ax3, p3_sw_abs_e, p3_sw_abs, SWIFT, DASH, 1.3)
curve(ax3, p3_nu_mod_e, p3_nu_mod, NUB, '-', 2.0)
curve(ax3, p3_nu_mod_e, p3_nu_mod, NUA, '-', 1.6)
curve(ax3, p3_gau_e, p3_gau, NUB, DDOT, 1.6)
curve(ax3, p3_gau_e, p3_gau, NUA, DDOT, 1.3)
finish(ax3)

# panel 4
ax4 = add_panel((55, 375, 437, 613), (0.15, 20), bot_ylim, [1, 10], '30.5 days', 0.04, 0.885)
data(ax4, p4_nub_e, p4_nub_de, p4_nub_f, p4_nub_rel, NUB)
data(ax4, p4_nua_e, p4_nua_de, p4_nua_f, p4_nua_rel, NUA)
data(ax4, p4_pn_e, p4_pn_de, p4_pn_f, p4_pn_rel, PN)
data(ax4, p4_m1_e, p4_m1_de, p4_m1_f, p4_m1_rel, MOS1)
data(ax4, p4_m2_e, p4_m2_de, p4_m2_f, p4_m2_rel, MOS2)
steps(ax4, p4_pn_mod_edges, p4_pn_mod, PN)
steps(ax4, p4_m1_mod_edges, p4_m1_mod, MOS1)
steps(ax4, p4_m2_mod_edges, p4_m2_mod, MOS2)
curve(ax4, p4_nu_mod_e, p4_nu_mod, NUB, '-', 2.0)
curve(ax4, p4_nu_mod_e, p4_nu_mod, NUA, '-', 1.6)
curve(ax4, p4_pn_con_e, p4_pn_con, PN, DOT, 1.3)
curve(ax4, p4_con_e, p4_con, MOS1, DOT, 1.3)
curve(ax4, p4_con_e, p4_con, MOS2, SDASH, 1.0)
curve(ax4, p4_pn_abs_e, p4_pn_abs, PN, DASH, 1.3)
curve(ax4, p4_abs_e, p4_abs, MOS1, '-', 1.3)
curve(ax4, p4_abs_e, p4_abs, MOS2, DASH, 1.3)
finish(ax4)

# panel 5
ax5 = add_panel((507, 375, 888, 611), (0.19, 20), bot_ylim, [0.2, 0.5, 1, 2, 5, 10], '58.4 days', 0.045, 0.88)
data(ax5, p5_nub_e, p5_nub_de, p5_nub_f, p5_nub_rel, NUB)
data(ax5, p5_nua_e, p5_nua_de, p5_nua_f, p5_nua_rel, NUA)
data(ax5, p5_pn_e, p5_pn_de, p5_pn_f, p5_pn_rel, PN)
data(ax5, p5_m1_e, p5_m1_de, p5_m1_f, p5_m1_rel, MOS1)
data(ax5, p5_m2_e, p5_m2_de, p5_m2_f, p5_m2_rel, MOS2)
steps(ax5, p5_pn_mod_edges, p5_pn_mod, PN)
steps(ax5, p5_m1_mod_edges, p5_m1_mod, MOS1)
steps(ax5, p5_m2_mod_edges, p5_m2_mod, MOS2, 2.0)
curve(ax5, p5_nu_mod_e, p5_nu_mod, NUB, '-', 2.0)
curve(ax5, p5_nu_mod_e, p5_nu_mod, NUA, '-', 1.6)
curve(ax5, p5_pn_con_e, p5_pn_con, PN, DOT, 1.3)
curve(ax5, p5_con_e, p5_con, MOS1, DOT, 1.3)
curve(ax5, p5_con_e, p5_con, MOS2, DOT, 1.0)
curve(ax5, p5_pn_abs_e, p5_pn_abs, PN, DASH, 1.3)
curve(ax5, p5_abs_e, p5_abs, MOS1, DASH, 1.3)
curve(ax5, p5_abs_e, p5_abs, MOS2, SDASH, 1.0)
finish(ax5)

# panel 6
ax6 = add_panel((964, 375, 1345, 610), (0.15, 19.5), bot_ylim, [1, 10], '85.7 days', 0.055, 0.87)
data(ax6, p6_cxo_e, p6_cxo_de, p6_cxo_f, p6_cxo_rel, CXO)
steps(ax6, p6_cxo_mod_edges, p6_cxo_mod, CXO, 2.0)
finish(ax6)

# instrument colour key (boxed row of coloured names)
fig.add_artist(Rectangle((173 / W, 1 - 38 / H), 1039 / W, 36 / H, transform=fig.transFigure,
                         fill=False, edgecolor='black', linewidth=1.0))
name_x = [243, 356, 502, 677, 865, 1027, 1152]
for name, col, px in zip(instruments, inst_text_colors, name_x):
    fig.text(px / W, 1 - 20 / H, name, color=col, fontsize=13.5, ha='center', va='center')

# line style key
handles = [Line2D([], [], color='black', lw=2.0, ls='-'),
           Line2D([], [], color='black', lw=1.2, ls=(0, (1, 2))),
           Line2D([], [], color='black', lw=2.4, ls=(0, (2, 1.5))),
           Line2D([], [], color='black', lw=2.0, ls=(0, (6, 3, 1, 3)))]
labels = ['Total Model Flux', 'Contaminating  Component', 'Absorbed  Bremsstrahlung', 'Gaussian line profile']
leg = fig.legend(handles, labels, loc='center', bbox_to_anchor=(692.5 / W, 1 - 65 / H),
                 ncol=4, fontsize=10.5, frameon=True, fancybox=False, edgecolor='black',
                 handlelength=3.5, handletextpad=0.6, columnspacing=4.2, borderpad=0.7)
leg.get_frame().set_linewidth(1.0)

fig.savefig('out.png', dpi=100)
